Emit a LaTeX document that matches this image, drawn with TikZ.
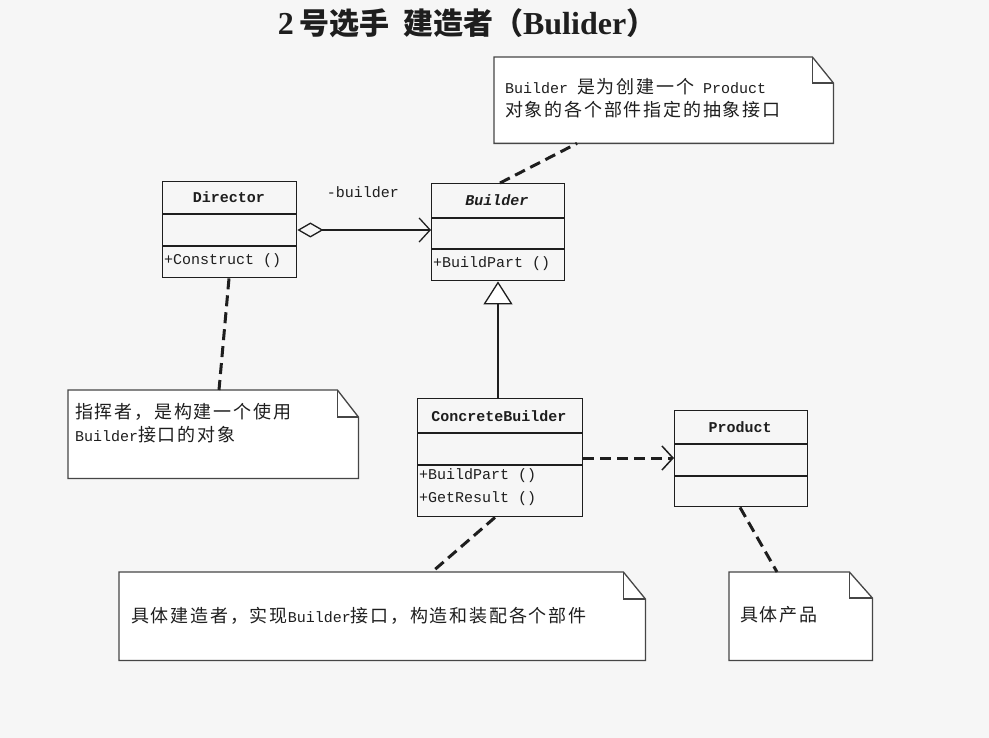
\documentclass[tikz,border=0pt]{standalone}
\usepackage{fontspec}
\setmainfont{Liberation Serif}
\setmonofont{Liberation Mono}
\newfontfamily\cjk{Noto Sans CJK SC}
\newfontfamily\cjknote{Noto Sans CJK SC}[LetterSpace=10]
\usetikzlibrary{arrows.meta,calc}
\definecolor{bgcol}{RGB}{246,246,246}
\definecolor{ink}{RGB}{30,30,30}
\definecolor{noteink}{RGB}{70,70,70}
\newcommand{\zh}[1]{{\cjknote\fontsize{18}{22}\selectfont #1}}
\tikzset{
  clsbox/.style={draw=ink, line width=1.4pt, inner sep=0pt, anchor=north west},
  notearea/.style={inner sep=0pt, anchor=north west},
  noteline/.style={draw=noteink, line width=1.3pt, line join=miter, fill=white},
  divider/.style={draw=ink, line width=1.4pt},
  clsname/.style={font=\ttfamily\bfseries\fontsize{15}{18}\selectfont, text=ink, inner sep=0pt},
  member/.style={font=\ttfamily\fontsize{15}{18}\selectfont, text=ink, inner sep=0pt, anchor=west},
  notetext/.style={font=\ttfamily\fontsize{15}{18}\selectfont, text=ink, inner sep=0pt, anchor=west},
  noteconn/.style={draw=ink, line width=3pt, dash pattern=on 11pt off 6pt},
  assoc/.style={draw=ink, line width=1.3pt},
}
\newcommand{\drawnote}[3]{% name, fold w, fold h
  \draw[noteline] (#1.north west) -- ([xshift=-#2pt]#1.north east) -- ([yshift=-#3pt]#1.north east) -- (#1.south east) -- (#1.south west) -- cycle;
  \draw[noteline, fill=none] ([xshift=-#2pt]#1.north east) -- ([xshift=-#2pt,yshift=-#3pt]#1.north east) -- ([yshift=-#3pt]#1.north east);
}
\begin{document}
\begin{tikzpicture}[x=1pt,y=-1pt]
\fill[bgcol] (0,0) rectangle (989,738);
\useasboundingbox (0,0) rectangle (989,738);

% title
\node[inner sep=0pt, text=ink] (title) at (467,23)
  {\bfseries\fontsize{32}{36}\selectfont 2\,{\cjk\fontsize{30}{34}\selectfont 号选手}\hspace{14pt}{\cjk\fontsize{30}{34}\selectfont 建造者（}Bulider{\cjk\fontsize{30}{34}\selectfont ）}};

% ---------- classes ----------
% Director
\node[clsbox, minimum width=134pt, minimum height=96pt] (dir) at (162,181) {};
\draw[divider] (162,214) -- (296,214);
\draw[divider] (162,246) -- (296,246);
\node[clsname] (dirname) at (229,197) {Director};
\node[member] (dirop) at (164,261) {+Construct ()};

% Builder
\node[clsbox, minimum width=133pt, minimum height=97pt] (bld) at (431,183) {};
\draw[divider] (431,218) -- (564,218);
\draw[divider] (431,249) -- (564,249);
\node[clsname, font=\ttfamily\bfseries\itshape\fontsize{15}{18}\selectfont] (bldname) at (497,200) {Builder};
\node[member] (bldop) at (433,264) {+BuildPart ()};

% ConcreteBuilder
\node[clsbox, minimum width=165pt, minimum height=118pt] (cb) at (417,398) {};
\draw[divider] (417,433) -- (582,433);
\draw[divider] (417,465) -- (582,465);
\node[clsname] (cbname) at (499,416) {ConcreteBuilder};
\node[member] (cbop1) at (419,476) {+BuildPart ()};
\node[member] (cbop2) at (419,499) {+GetResult ()};

% Product
\node[clsbox, minimum width=133pt, minimum height=96pt] (prod) at (674,410) {};
\draw[divider] (674,444) -- (807,444);
\draw[divider] (674,476) -- (807,476);
\node[clsname] (prodname) at (740,427) {Product};

% ---------- notes ----------
\node[notearea, minimum width=339pt, minimum height=86pt] (n1) at (494,57) {};
\drawnote{n1}{21}{26}
\node[notetext] (n1a) at (505,87) {Builder \zh{是为创建一个} Product};
\node[notetext] (n1b) at (505,110) {\zh{对象的各个部件指定的抽象接口}};

\node[notearea, minimum width=290pt, minimum height=88pt] (n2) at (68,390) {};
\drawnote{n2}{21}{27}
\node[notetext] (n2a) at (75,412) {\zh{指挥者，是构建一个使用}};
\node[notetext] (n2b) at (75,435) {Builder\zh{接口的对象}};

\node[notearea, minimum width=526pt, minimum height=88pt] (n3) at (119,572) {};
\drawnote{n3}{22}{27}
\node[notetext] (n3a) at (131,616) {\zh{具体建造者，实现}Builder\zh{接口，构造和装配各个部件}};

\node[notearea, minimum width=143pt, minimum height=88pt] (n4) at (729,572) {};
\drawnote{n4}{23}{26}
\node[notetext] (n4a) at (740,615) {\zh{具体产品}};

% ---------- connectors ----------
% aggregation Director -> Builder
\draw[assoc, {Diamond[open, length=26pt, width=15pt, line width=1.3pt]}-{Straight Barb[length=11pt, width=24pt, line width=1.3pt]}]
  ($(dir.north east)+(0,49)$) -- ($(bld.north west)+(0,47)$);
\node[notetext, anchor=center] (rolelbl) at (363,192) {-builder};

% generalization ConcreteBuilder -> Builder
\draw[assoc, -{Triangle[open, length=23pt, width=29pt, line width=1.3pt, fill=white]}]
  ($(cb.north west)+(81,0)$) -- ($(bld.south west)+(67,0)$);

% dependency ConcreteBuilder -> Product
\draw[noteconn, -{Straight Barb[length=11pt, width=24pt, line width=1.5pt, sep=0pt]}]
  ($(cb.north east)+(0,60)$) -- ($(prod.north west)+(0,48)$);

% note anchors
\draw[noteconn] ($(bld.north west)+(69,0)$) -- ($(n1.south west)+(83,0)$);
\draw[noteconn] ($(dir.south west)+(67,0)$) -- ($(n2.north west)+(151,0)$);
\draw[noteconn] ($(cb.south west)+(78,0)$) -- ($(n3.north west)+(313,0)$);
\draw[noteconn] ($(prod.south west)+(66,0)$) -- ($(n4.north west)+(48,0)$);
\end{tikzpicture}
\end{document}
